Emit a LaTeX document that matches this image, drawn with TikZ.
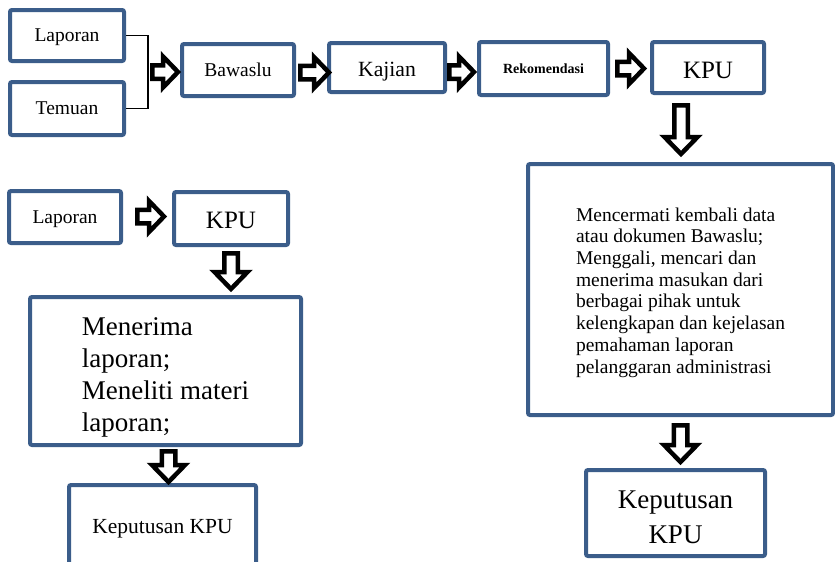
\documentclass[tikz,border=0pt]{standalone}
\usepackage{fontspec}
\setmainfont{Liberation Serif}
\usetikzlibrary{calc}
\definecolor{boxblue}{RGB}{59,93,138}

\tikzset{
  box/.style={draw=boxblue, line width=4pt, rounded corners=2pt, inner sep=0pt, align=center},
  oneline/.style={text height=#1, text depth=0pt},
  blockline/.style={draw=black, fill=white, line width=4.5pt},
  pics/rblock/.style={code={
    \draw[blockline] (2.25,-6.75)--(#1-18,-6.75)--(#1-18,-15.5)--(#1-3,0)
      --(#1-18,15.5)--(#1-18,6.75)--(2.25,6.75)--cycle;}},
  pics/dblock/.style={code={
    \draw[blockline] (-6.75,2.25)--(-6.75,#1-20)--(-16.5,#1-20)--(0,#1-3)
      --(16.5,#1-20)--(6.75,#1-20)--(6.75,2.25)--cycle;}},
}

\begin{document}
\begin{tikzpicture}[x=1pt,y=-1pt]
  \clip(0,0) rectangle (835,562);
  % top row
  \node[box, oneline=12.9pt, minimum width=114pt, minimum height=51pt, font=\fontsize{19.5}{22}\selectfont] (lapA) at (67,35.5) {Laporan};
  \node[box, oneline=12.9pt, minimum width=114pt, minimum height=53pt, font=\fontsize{19.5}{22}\selectfont] (temA) at (67,108.5) {Temuan};
  \node[box, oneline=12.9pt, minimum width=112pt, minimum height=52pt, font=\fontsize{19.5}{22}\selectfont] (baw) at (238,70) {Bawaslu};
  \node[box, oneline=18pt, minimum width=116pt, minimum height=49pt, font=\fontsize{21.7}{24}\selectfont] (kaj) at (387,67.5) {Kajian};
  \node[box, oneline=9.3pt, minimum width=129pt, minimum height=53pt, font=\bfseries\fontsize{14}{16}\selectfont] (rek) at (543.5,68.5) {Rekomendasi};
  \node[box, oneline=22pt, minimum width=112pt, minimum height=51pt, font=\fontsize{25}{28}\selectfont] (kpuA) at (708,67.5) {KPU};
  \draw[line width=1.5pt](lapA.east)--++(22,0)|-(temA.east);
  \pic at ($(baw.west)+(-30,2)$) {rblock=31};
  \pic at ($(kaj.west)+(-29,5)$) {rblock=34};
  \pic at ($(rek.west)+(-30,3.5)$) {rblock=30};
  \pic at ($(kpuA.west)+(-35,1)$) {rblock=32};
  % right column
  \node[box, minimum width=305pt, minimum height=251pt, align=left, font=\fontsize{19.5}{21.7}\selectfont] (cermat) at (680.5,289.5)
    {\rule{0pt}{19.3pt}Mencermati kembali data\\atau dokumen Bawaslu;\\Menggali, mencari dan\\menerima masukan dari\\berbagai pihak untuk\\kelengkapan dan kejelasan\\pemahaman laporan\\pelanggaran administrasi};
  \node[box, minimum width=179pt, minimum height=86pt, font=\fontsize{27}{35}\selectfont] (kepB) at (675.5,513) {\rule{0pt}{27pt}Keputusan\\KPU};
  \pic at ($(kpuA.south)+(-27,8)$) {dblock=54};
  \pic at ($(cermat.south)+(0,6)$) {dblock=42};
  % left column
  \node[box, oneline=12.9pt, minimum width=112pt, minimum height=52pt, font=\fontsize{19.5}{22}\selectfont] (lapB) at (65,217) {Laporan};
  \node[box, oneline=19pt, minimum width=114pt, minimum height=53pt, font=\fontsize{25}{28}\selectfont] (kpuB) at (231,218.5) {KPU};
  \node[box, minimum width=271pt, minimum height=148pt, align=left, font=\fontsize{27}{32}\selectfont] (terima) at (165.5,371)
    {\rule{0pt}{30.4pt}Menerima\\laporan;\\Meneliti materi\\laporan;};
  \node[box, oneline=14.2pt, minimum width=187pt, minimum height=83pt, font=\fontsize{21.5}{24}\selectfont] (kepA) at (162.5,526.5) {Keputusan KPU};
  \pic at ($(kpuB.west)+(-37,-2)$) {rblock=32};
  \pic at ($(kpuB.south)+(0,4)$) {dblock=41};
  \pic at ($(terima.south)+(3,2)$) {dblock=36};
\end{tikzpicture}
\end{document}
